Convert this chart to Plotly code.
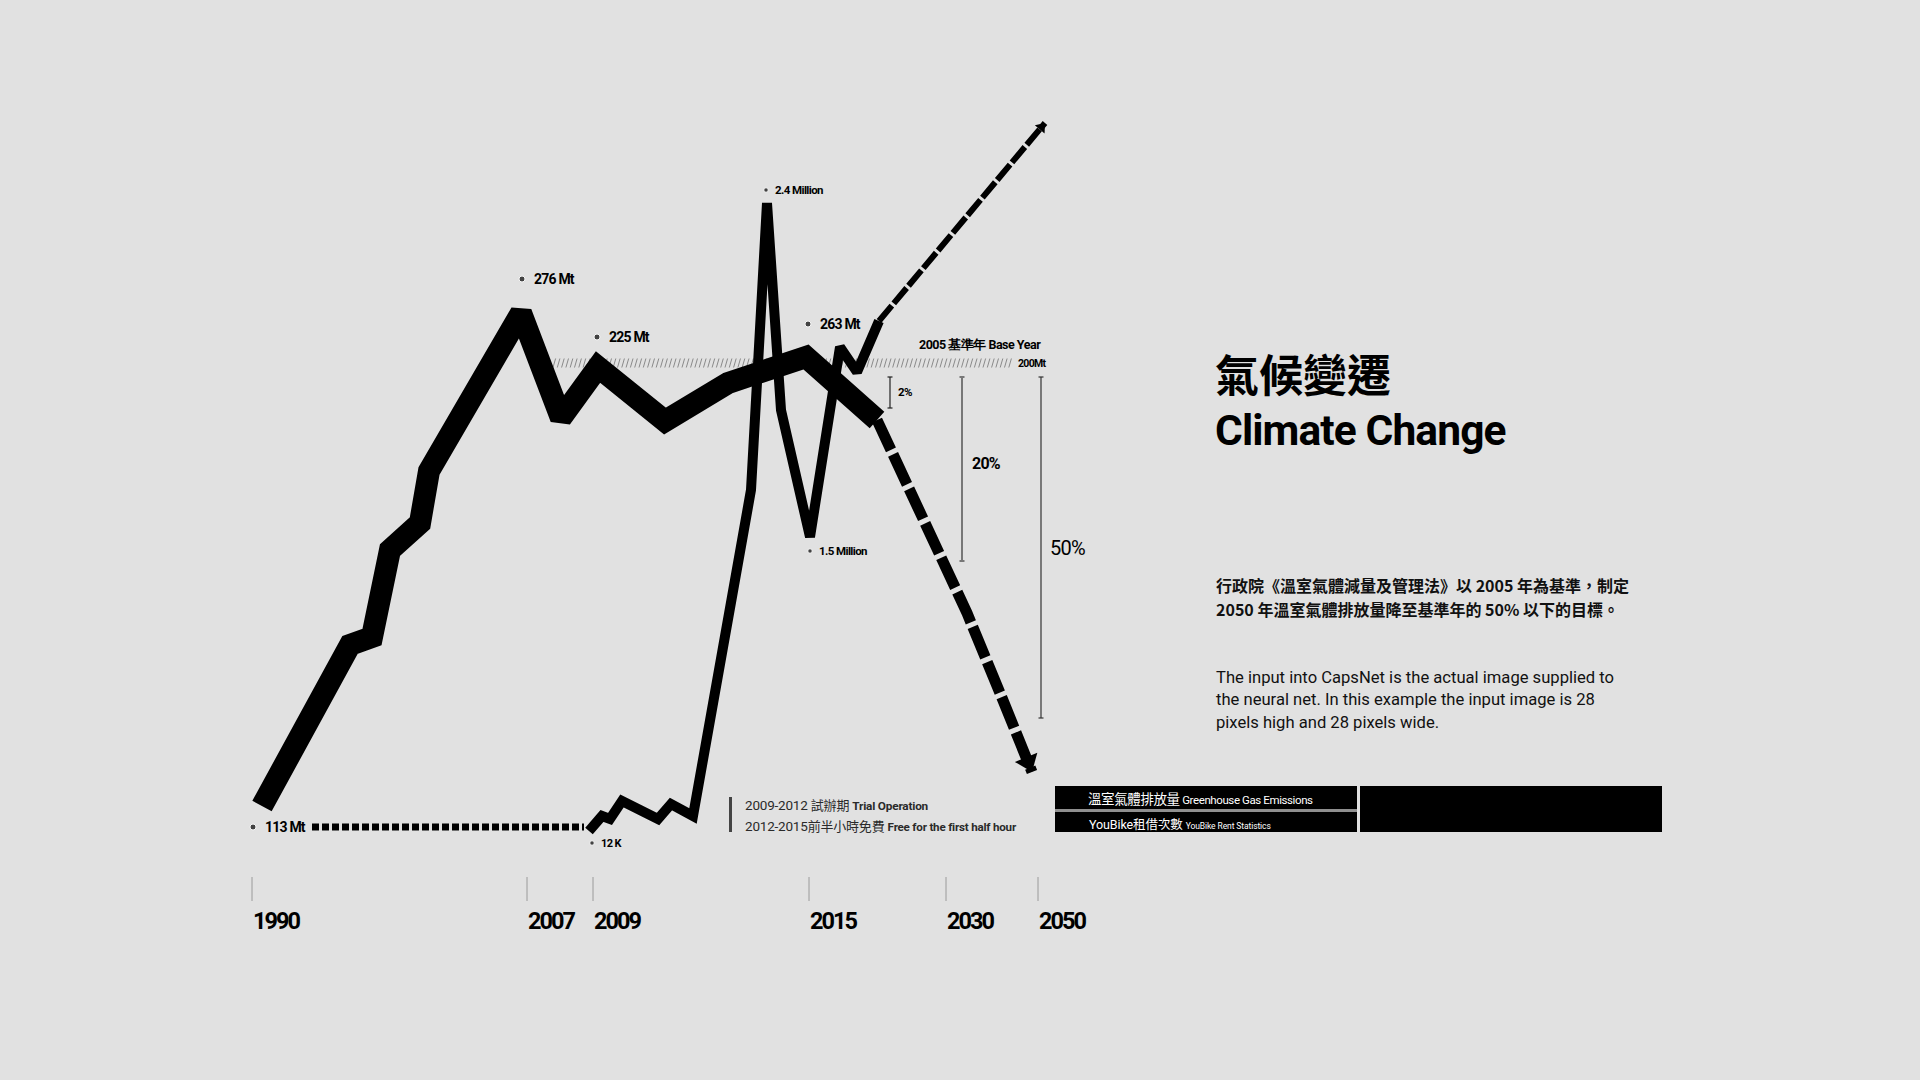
import math
import numpy as np
import plotly.graph_objects as go

W, H = 1920, 1080
BG = "#e1e1e1"
INK = "#000000"
COND = "Roboto, Noto Sans, sans-serif"
CJK = "Noto Sans CJK TC, Noto Sans CJK SC, sans-serif"
BODY = "Roboto, Noto Sans, sans-serif"

# ---- timeline (drawn positions along the horizontal canvas axis) ----
year_labels = ["1990", "2007", "2009", "2015", "2030", "2050"]
year_pos = [252, 527, 593, 809, 946, 1038]

# ---- greenhouse gas emissions path ----
ghg_x = [262, 350, 372, 390, 420, 429, 521, 561, 598, 665, 728, 766, 806, 877]
ghg_y = [806, 645, 637, 550, 523, 471, 313, 418, 367, 421, 383, 371, 357, 420]
# projection towards the 2050 target
ghg_proj_x = [877, 900, 933, 967, 1000, 1032]
ghg_proj_y = [420, 470, 537, 613, 693, 772]

# ---- YouBike rentals path ----
bike_pre_x = [312, 584]          # before launch (dotted)
bike_pre_y = [827, 827]
bike_x = [589, 602, 610, 622, 658, 671, 693, 751, 767, 781, 810, 840, 857, 879]
bike_y = [831, 816, 819, 801, 819, 804, 816, 490, 203, 410, 537, 347, 372, 321]
bike_proj_x = [879, 1045]
bike_proj_y = [321, 123]

# ---- value call-outs ----
pt_labels = ["113 Mt", "276 Mt", "225 Mt", "263 Mt", "2.4 Million", "1.5 Million", "12 K"]
pt_x = [253, 522, 597, 808, 766, 810, 592]
pt_y = [827, 279, 337, 324, 190, 551, 843]
pt_font = [14, 14, 14, 14, 11.5, 11.5, 11]
pt_dot = [6, 6, 6, 6, 4.5, 4.5, 4.5]

# ---- reduction targets against the 2005 base year ----
base_label = "2005 基準年 Base Year"
base_value = "200Mt"
base_y = 363
target_labels = ["2%", "20%", "50%"]
target_x = [890, 962, 1041]
target_bottom = [408, 561, 718]
target_top = 377

fig = go.Figure()

# base-year hatched band
hx = np.arange(553, 1012, 4.3)
hatch_x, hatch_y = [], []
for x in hx:
    hatch_x += [x, x + 2.6, None]
    hatch_y += [base_y + 4.5, base_y - 4.5, None]
fig.add_trace(go.Scatter(x=hatch_x, y=hatch_y, mode="lines",
                         line=dict(color="#8a8a8a", width=1), hoverinfo="skip"))

# target brackets
t_styles = [("#222222", 1.2), ("#777777", 2), ("#333333", 1.2)]
for xv, yb, (col, w) in zip(target_x, target_bottom, t_styles):
    fig.add_trace(go.Scatter(
        x=[xv, xv, None, xv - 2.5, xv + 2.5, None, xv - 2.5, xv + 2.5],
        y=[target_top, yb, None, target_top, target_top, None, yb, yb],
        mode="lines", line=dict(color=col, width=w), hoverinfo="skip"))

# pre-launch dotted YouBike segment
fig.add_trace(go.Scatter(x=bike_pre_x, y=bike_pre_y, mode="lines",
                         line=dict(color=INK, width=7, dash="7px,3px"), hoverinfo="skip"))

# greenhouse gas line
fig.add_trace(go.Scatter(x=ghg_x, y=ghg_y, mode="lines",
                         line=dict(color=INK, width=22), hoverinfo="skip"))
fig.add_trace(go.Scatter(x=ghg_proj_x, y=ghg_proj_y, mode="lines",
                         line=dict(color=INK, width=11, dash="33px,5px"), hoverinfo="skip"))

# YouBike line
fig.add_trace(go.Scatter(x=bike_x, y=bike_y, mode="lines",
                         line=dict(color=INK, width=10), hoverinfo="skip"))
fig.add_trace(go.Scatter(x=bike_proj_x, y=bike_proj_y, mode="lines",
                         line=dict(color=INK, width=6, dash="20px,3px"), hoverinfo="skip"))


def arrow_head(xs, ys, size):
    """Triangle marker whose tip sits on the last point of a path."""
    dx, dy = xs[-1] - xs[-2], ys[-1] - ys[-2]
    n = math.hypot(dx, dy)
    ux, uy = dx / n, dy / n
    r = size / 2
    cx, cy = xs[-1] - ux * r, ys[-1] - uy * r
    ang = math.degrees(math.atan2(dx, -dy))   # y grows downward on screen
    fig.add_trace(go.Scatter(x=[cx], y=[cy], mode="markers", hoverinfo="skip",
                             marker=dict(symbol="triangle-up", size=size, angle=ang,
                                         color=INK, line=dict(width=0))))


arrow_head(ghg_proj_x, ghg_proj_y, 21)
arrow_head(bike_proj_x, bike_proj_y, 11)

# call-out dots
fig.add_trace(go.Scatter(x=pt_x, y=pt_y, mode="markers",
                         marker=dict(color=INK, size=pt_dot), hoverinfo="skip"))

# year ticks
tick_x, tick_y = [], []
for xv in year_pos:
    tick_x += [xv, xv, None]
    tick_y += [877, 901, None]
fig.add_trace(go.Scatter(x=tick_x, y=tick_y, mode="lines",
                         line=dict(color="#9a9a9a", width=1), hoverinfo="skip"))

ann = []


def text(x, y, s, size, family=COND, weight=700, color=INK, xanchor="left", ls=0.0):
    if ls:
        s = f"<span style='letter-spacing:{ls}px'>{s}</span>"
    ann.append(dict(x=x, y=y, text=s, showarrow=False, xanchor=xanchor, yanchor="middle",
                    font=dict(family=family, size=size, color=color, weight=weight)))


for lab, xv in zip(year_labels, year_pos):
    text(xv - 1, 921, lab, 23.5, ls=-2)

for lab, xv, yv, fs in zip(pt_labels, pt_x, pt_y, pt_font):
    text(xv + 10 if fs > 12 else xv + 7, yv, lab, fs, ls=-0.8 if fs > 12 else -0.6)

text(1043, base_y - 19, base_label, 12.5, xanchor="right", ls=-0.5)
text(1016, base_y, base_value, 10.5, ls=-0.7)

text(896, 392, target_labels[0], 11.5, ls=-0.5)
text(970, 463, target_labels[1], 16, ls=-0.8)
text(1048, 548, target_labels[2], 20, weight=400, ls=-0.8)

# operation notes
fig.add_trace(go.Scatter(x=[730.5, 730.5], y=[797, 832], mode="lines",
                         line=dict(color="#444444", width=3), hoverinfo="skip"))
text(743, 804,
     "2009-2012 <span style='font-family:Noto Sans CJK TC;font-size:13px'>試辦期</span> "
     "<span style='font-size:11.8px;font-weight:700'>Trial Operation</span>",
     13.5, weight=400, color="#2a2a2a", ls=-0.2)
text(743, 825,
     "2012-2015<span style='font-family:Noto Sans CJK TC;font-size:13px'>前半小時免費</span> "
     "<span style='font-size:11.6px;font-weight:700'>Free for the first half hour</span>",
     13.5, weight=400, color="#2a2a2a", ls=-0.2)

# legend boxes
shapes = [
    dict(type="rect", x0=1055, x1=1357, y0=809, y1=812, fillcolor="#8f8f8f", line_width=0, layer="below"),
    dict(type="rect", x0=1055, x1=1357, y0=786, y1=809, fillcolor=INK, line_width=0),
    dict(type="rect", x0=1055, x1=1357, y0=812, y1=832, fillcolor=INK, line_width=0),
    dict(type="rect", x0=1360, x1=1662, y0=786, y1=832, fillcolor=INK, line_width=0),
]
text(1086, 798,
     "<span style='font-family:Noto Sans CJK TC;font-size:13.5px'>溫室氣體排放量</span> Greenhouse Gas Emissions",
     11.5, weight=400, color="#ffffff", ls=-0.4)
text(1087, 823,
     "YouBike<span style='font-family:Noto Sans CJK TC'>租借次數</span> "
     "<span style='font-size:8.5px'>YouBike Rent Statistics</span>",
     12.5, weight=400, color="#ffffff", ls=-0.1)

# title block
text(1213, 373, "氣候變遷", 44, family=CJK, weight=700)
text(1213, 430, "Climate Change", 42.5, ls=-0.9)
text(1214, 585, "行政院《溫室氣體減量及管理法》以 2005 年為基準，制定", 16, family=CJK, weight=700, color="#111111")
text(1214, 609, "2050 年溫室氣體排放量降至基準年的 50% 以下的目標。", 16, family=CJK, weight=700, color="#111111")
body_lines = ["The input into CapsNet is the actual image supplied to",
              "the neural net. In this example the input image is 28",
              "pixels high and 28 pixels wide."]
for i, ln in enumerate(body_lines):
    text(1214, 677 + i * 22.5, ln, 16.6, family=BODY, weight=400, color="#111111")

fig.update_layout(
    width=W, height=H, margin=dict(l=0, r=0, t=0, b=0),
    paper_bgcolor=BG, plot_bgcolor=BG, showlegend=False,
    xaxis=dict(range=[0, W], visible=False, fixedrange=True),
    yaxis=dict(range=[H, 0], visible=False, fixedrange=True),
    annotations=ann, shapes=shapes,
)

fig.write_html("out.html", config={"displayModeBar": False})
